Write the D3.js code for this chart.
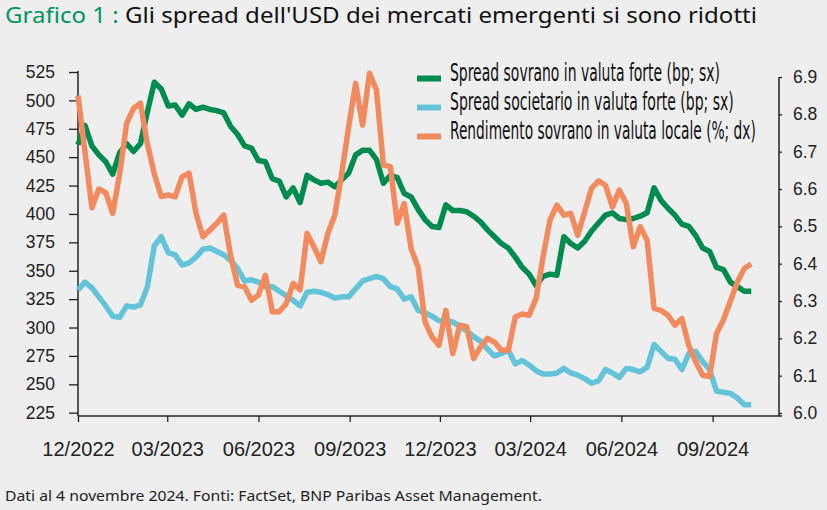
<!DOCTYPE html>
<html>
<head>
<meta charset="utf-8">
<script src="https://cdn.jsdelivr.net/npm/d3@7"></script>
<style>
  html, body { margin: 0; padding: 0; background: #eeeeee; }
  svg { display: block; }
</style>
</head>
<body>
<div id="chart"></div>
<script>
// weekly observations, first one on 1 Dec 2022
const startDate = new Date(2022, 11, 1);

const sovereignSpread = [461, 478, 460, 452, 446, 435, 454, 462, 455, 462,
  490, 516, 510, 495, 496, 487, 497, 492, 494, 492,
  491, 489, 477, 470, 460, 458, 447, 446, 431, 429,
  415, 423, 410, 434, 430, 427, 428, 424, 430, 436,
  452, 456, 456, 448, 427, 434, 432, 418, 415, 404,
  395, 389, 388, 408, 403, 403, 402, 398, 393, 386,
  380, 374, 370, 362, 353, 347, 337, 345, 347, 346,
  380, 374, 370, 376, 385, 392, 399, 401, 396, 395,
  396, 398, 401, 423, 412, 405, 399, 391, 389, 381,
  370, 367, 353, 351, 340, 336, 332, 332];

const corporateSpread = [333, 340, 335, 327, 319, 310, 309, 319, 318, 320,
  336, 372, 380, 366, 364, 355, 357, 362, 369, 370,
  367, 364, 359, 352, 341, 342, 340, 336, 336, 332,
  328, 324, 319, 331, 332, 331, 329, 326, 327, 327,
  334, 341, 343, 345, 343, 336, 334, 325, 327, 315,
  313, 310, 306, 306, 305, 301, 297, 292, 288, 281,
  275, 277, 280, 268, 271, 267, 262, 259, 259, 260,
  264, 260, 258, 255, 251, 253, 263, 260, 256, 264,
  263, 261, 265, 285, 279, 273, 272, 263, 277, 279,
  270, 263, 244, 243, 242, 238, 232, 232];

const localYield = [6.85, 6.70, 6.55, 6.60, 6.59, 6.535, 6.64, 6.776, 6.816, 6.83,
  6.72, 6.64, 6.58, 6.584, 6.579, 6.633, 6.642, 6.535, 6.472, 6.49,
  6.508, 6.53, 6.42, 6.342, 6.338, 6.302, 6.316, 6.369, 6.271, 6.271,
  6.293, 6.347, 6.33, 6.481, 6.445, 6.405, 6.481, 6.53, 6.642, 6.767,
  6.883, 6.771, 6.91, 6.865, 6.664, 6.66, 6.508, 6.561, 6.44, 6.391,
  6.244, 6.204, 6.181, 6.275, 6.159, 6.235, 6.231, 6.146, 6.177, 6.2,
  6.19, 6.168, 6.168, 6.257, 6.265, 6.262, 6.307, 6.418, 6.517, 6.557,
  6.53, 6.535, 6.476, 6.539, 6.602, 6.622, 6.61, 6.552, 6.597, 6.561,
  6.445, 6.499, 6.463, 6.28, 6.275, 6.262, 6.235, 6.253, 6.181, 6.137,
  6.101, 6.098, 6.213, 6.25, 6.30, 6.351, 6.387, 6.399];

const dates = sovereignSpread.map((d, i) => d3.timeDay.offset(startDate, 7 * i));

const xTicks = ["2022-12-01", "2023-03-01", "2023-06-01", "2023-09-01",
  "2023-12-01", "2024-03-01", "2024-06-01", "2024-09-01"];
const leftTicks = [225, 250, 275, 300, 325, 350, 375, 400, 425, 450, 475, 500, 525];
const rightTicks = [6.0, 6.1, 6.2, 6.3, 6.4, 6.5, 6.6, 6.7, 6.8, 6.9];

const seriesNames = ["Spread sovrano in valuta forte (bp; sx)",
  "Spread societario in valuta forte (bp; sx)",
  "Rendimento sovrano in valuta locale (%; dx)"];
const seriesColors = ["#008c4f", "#63c4d9", "#f28a5d"];

const width = 827, height = 510;
const svg = d3.select("#chart").append("svg")
    .attr("width", width)
    .attr("height", height);

svg.append("rect").attr("width", width).attr("height", height).attr("fill", "#eeeeee");

// title
let title = svg.append("text")
    .attr("x", 5)
    .attr("y", 23)
    .style("font-family", "'Noto Sans', sans-serif")
    .style("font-size", "22px");
title.append("tspan").attr("fill", "#00965e").text("Grafico 1 : ");
title.append("tspan").attr("fill", "#111").text("Gli spread dell'USD dei mercati emergenti si sono ridotti");
title.attr("textLength", 752).attr("lengthAdjust", "spacingAndGlyphs");

let x = d3.scaleTime()
    .domain([startDate, new Date(2024, 10, 7)])
    .range([78, 779]);

let yLeft = d3.scaleLinear()
    .domain([225, 525])
    .range([412.7, 72]);

let yRight = d3.scaleLinear()
    .domain([6.0, 6.9])
    .range([413, 77]);

// axes
let xAxis = d3.axisBottom(x)
    .tickValues(xTicks.map(d => d3.timeParse("%Y-%m-%d")(d)))
    .tickFormat(d3.timeFormat("%m/%Y"))
    .tickSize(6)
    .tickSizeOuter(0)
    .tickPadding(19.5);

let gx = svg.append("g")
    .attr("class", "x axis")
    .attr("transform", "translate(0,416)")
    .call(xAxis);
gx.select(".domain").remove();
gx.selectAll("text")
    .style("font-family", "'Liberation Sans', Arial, sans-serif")
    .style("font-size", "20px")
    .attr("fill", "#222");

let gl = svg.append("g")
    .attr("class", "y axis")
    .attr("transform", "translate(78,0)")
    .call(d3.axisLeft(yLeft).tickValues(leftTicks).tickSize(9).tickPadding(14).tickSizeOuter(0));
gl.select(".domain").remove();
gl.selectAll("text")
    .style("font-family", "'Liberation Sans', Arial, sans-serif")
    .style("font-size", "17.5px")
    .attr("fill", "#222");

let gr = svg.append("g")
    .attr("class", "y axis")
    .attr("transform", "translate(779,0)")
    .call(d3.axisRight(yRight).tickValues(rightTicks).tickFormat(d3.format(".1f")).tickSize(3).tickPadding(11).tickSizeOuter(0));
gr.select(".domain").remove();
gr.selectAll("text")
    .style("font-family", "'Liberation Sans', Arial, sans-serif")
    .style("font-size", "17.5px")
    .attr("fill", "#222");

svg.selectAll(".axis line").attr("stroke", "#222").attr("stroke-width", 1.3);

// axis frame lines
svg.append("line").attr("x1", 78).attr("x2", 78).attr("y1", 71).attr("y2", 416)
    .attr("stroke", "#222").attr("stroke-width", 1.5);
svg.append("line").attr("x1", 779).attr("x2", 779).attr("y1", 77).attr("y2", 416)
    .attr("stroke", "#222").attr("stroke-width", 1.5);
svg.append("line").attr("x1", 78).attr("x2", 782).attr("y1", 416).attr("y2", 416)
    .attr("stroke", "#222").attr("stroke-width", 1.5);

// lines
let lineLeft = d3.line()
    .x((d, i) => x(dates[i]))
    .y(d => yLeft(d));

let lineRight = d3.line()
    .x((d, i) => x(dates[i]))
    .y(d => yRight(d));

svg.append("path")
    .attr("d", lineLeft(sovereignSpread))
    .attr("fill", "none")
    .attr("stroke", seriesColors[0])
    .attr("stroke-width", 5.5)
    .attr("stroke-linejoin", "round");

svg.append("path")
    .attr("d", lineLeft(corporateSpread))
    .attr("fill", "none")
    .attr("stroke", seriesColors[1])
    .attr("stroke-width", 5.5)
    .attr("stroke-linejoin", "round");

svg.append("path")
    .attr("d", lineRight(localYield))
    .attr("fill", "none")
    .attr("stroke", seriesColors[2])
    .attr("stroke-width", 5.5)
    .attr("stroke-linejoin", "round");

// legend, condensed by scaling each label to its width in the reference
const legendWidths = [270, 284, 306];
let legend = svg.selectAll(".legend")
    .data(seriesNames)
  .enter().append("g")
    .attr("class", "legend")
    .attr("transform", (d, i) => `translate(417,${81 + i * 29})`);

legend.append("rect")
    .attr("x", 0)
    .attr("y", -5.5)
    .attr("width", 24)
    .attr("height", 6)
    .attr("fill", (d, i) => seriesColors[i]);

legend.append("text")
    .text(d => d)
    .style("font-family", "'Liberation Sans Narrow', 'DejaVu Sans Condensed', sans-serif")
    .style("font-size", "24px")
    .attr("fill", "#111")
    .attr("transform", function (d, i) {
      let w = this.getComputedTextLength();
      return `translate(33,0) scale(${legendWidths[i] / w},1)`;
    });

// footer
svg.append("text")
    .attr("x", 5)
    .attr("y", 501)
    .text("Dati al 4 novembre 2024. Fonti: FactSet, BNP Paribas Asset Management.")
    .attr("textLength", 537)
    .attr("lengthAdjust", "spacingAndGlyphs")
    .style("font-family", "'Noto Sans', sans-serif")
    .style("font-size", "14.5px")
    .attr("fill", "#222");
</script>
</body>
</html>
